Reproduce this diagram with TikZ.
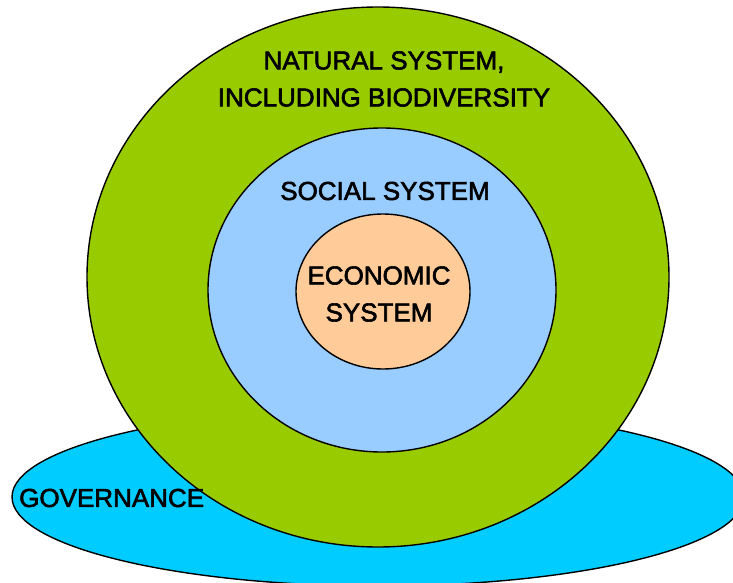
\documentclass[tikz,border=0pt]{standalone}
\usepackage{fontspec}
\setmainfont{Liberation Sans}
\newfontfamily\lblfont[FakeBold=2.2]{Liberation Sans}
\usetikzlibrary{shapes.geometric}
\definecolor{natgreen}{HTML}{99CC00}
\definecolor{socblue}{HTML}{99CCFF}
\definecolor{ecoorange}{HTML}{FFCC99}
\definecolor{govcyan}{HTML}{00CCFF}
\tikzset{
  ring/.style={ellipse, draw=black, line width=1.4pt, inner sep=0pt},
  lbl/.style={font=\lblfont\fontsize{26}{37}\selectfont, align=center, inner sep=0pt, text=black}
}
\begin{document}
\begin{tikzpicture}[x=1pt,y=-1pt]
\useasboundingbox (0,0) rectangle (733,583);
\fill[white] (0,0) rectangle (733,583);
\node[ring, fill=govcyan, minimum width=732pt, minimum height=178pt] (gov) at (378,497) {};
\node[ring, fill=natgreen, minimum width=582pt, minimum height=540pt] (nat) at (378,277) {};
\node[ring, fill=socblue, minimum width=348pt, minimum height=324pt] (soc) at (382,290) {};
\node[ring, fill=ecoorange, minimum width=174pt, minimum height=155pt] (eco) at (383,291.5) {};
\node[lbl] (natlbl) at (384,79) {NATURAL SYSTEM,\\INCLUDING BIODIVERSITY};
\node[lbl] (soclbl) at (385,191) {SOCIAL SYSTEM};
\node[lbl] (ecolbl) at (379,294) {ECONOMIC\\SYSTEM};
\node[lbl, anchor=west] (govlbl) at (19,498) {GOVERNANCE};
\end{tikzpicture}
\end{document}
